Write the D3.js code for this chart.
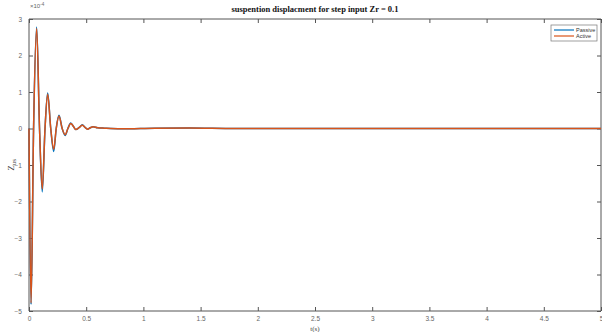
<!DOCTYPE html>
<html>
<head>
<meta charset="utf-8">
<script src="https://cdn.jsdelivr.net/npm/d3@7"></script>
<style>
  html, body { margin: 0; padding: 0; background: #fff; }
  svg { display: block; }
</style>
</head>
<body>
<svg id="chart" width="602" height="332"></svg>
<script>
// Time samples (s) at the extrema and zero crossings of the response
const time = [0, 0.018, 0.04, 0.067, 0.092, 0.116, 0.14, 0.163, 0.19, 0.216, 0.238, 0.262, 0.29, 0.316, 0.34, 0.365, 0.39, 0.408, 0.44, 0.466, 0.49, 0.513, 0.535, 0.56, 0.6, 0.66, 0.8, 1.1, 1.4, 1.8, 2.5, 5];
// Suspension displacement, units of 1e-4
const passive = [0, -4.82, 0, 2.78, 0, -1.74, 0, 0.97, 0, -0.63, 0, 0.36, 0, -0.19, 0, 0.15, 0.05, -0.03, 0.03, 0.1, 0.03, -0.02, 0.02, 0.05, 0.02, 0.01, -0.005, 0.01, 0.015, 0.0, 0.0, 0.0];
const active  = [0, -4.78, 0, 2.74, 0, -1.66, 0, 0.94, 0, -0.57, 0, 0.34, 0, -0.17, 0, 0.14, 0.05, -0.03, 0.03, 0.09, 0.03, -0.02, 0.02, 0.05, 0.02, 0.01, -0.005, 0.01, 0.015, 0.0, 0.0, 0.0];

const xTicks = [0, 0.5, 1, 1.5, 2, 2.5, 3, 3.5, 4, 4.5, 5];
const yTicks = [-5, -4, -3, -2, -1, 0, 1, 2, 3];
const seriesNames = ["Passive", "Active"];
const seriesColors = ["#0072BD", "#D95319"];

const svg = d3.select("#chart");
const plotL = 29, plotR = 601, plotT = 19, plotB = 311;

const x = d3.scaleLinear().domain([0, 5]).range([plotL, plotR]);
const y = d3.scaleLinear().domain([-5, 3]).range([plotB, plotT]);

const axisColor = "#555";
const labelColor = "#666";
const tickFont = "Arial, 'Liberation Sans', sans-serif";

// axes with inward ticks
const gx = svg.append("g").attr("transform", `translate(0,${plotB})`)
  .call(d3.axisBottom(x).tickValues(xTicks).tickSize(-4).tickPadding(5).tickFormat(d3.format("")));
const gxTop = svg.append("g").attr("transform", `translate(0,${plotT})`)
  .call(d3.axisTop(x).tickValues(xTicks).tickSize(-4).tickFormat(""));
const gy = svg.append("g").attr("transform", `translate(${plotL},0)`)
  .call(d3.axisLeft(y).tickValues(yTicks).tickSize(-4).tickPadding(7).tickFormat(d3.format("")));
const gyRight = svg.append("g").attr("transform", `translate(${plotR},0)`)
  .call(d3.axisRight(y).tickValues(yTicks).tickSize(-4).tickFormat(""));

[gx, gxTop, gy, gyRight].forEach(g => {
  g.selectAll("path.domain").attr("stroke", axisColor).attr("stroke-width", 1);
  g.selectAll(".tick line").attr("stroke", axisColor).attr("stroke-width", 1);
  g.selectAll(".tick text").attr("fill", labelColor).style("font-family", tickFont).style("font-size", "6.5px");
});
gx.selectAll("path.domain").attr("d", `M${plotL},0H${plotR}`);
gxTop.selectAll("path.domain").attr("d", `M${plotL},0H${plotR}`);
gy.selectAll("path.domain").attr("d", `M0,${plotT}V${plotB}`);
gyRight.selectAll("path.domain").attr("d", `M0,${plotT}V${plotB}`);

// series lines
const line = d3.line().curve(d3.curveMonotoneX);
[passive, active].forEach((vals, i) => {
  svg.append("path")
    .attr("d", line(time.map((t, k) => [x(t), y(vals[k])])))
    .attr("fill", "none")
    .attr("stroke", seriesColors[i])
    .attr("stroke-width", 1.5)
    .attr("stroke-linejoin", "round");
});

// exponent label
const expo = svg.append("text").attr("x", plotL + 1).attr("y", 8)
  .attr("fill", labelColor).style("font-family", tickFont).style("font-size", "6px");
expo.append("tspan").text("\u00d710");
expo.append("tspan").attr("dy", -2.5).style("font-size", "4.5px").text("-4");

// title
svg.append("text").attr("x", (plotL + plotR) / 2).attr("y", 12)
  .attr("text-anchor", "middle")
  .style("font-family", "'Liberation Serif', 'Times New Roman', serif")
  .style("font-weight", "bold").style("font-size", "8.5px").attr("fill", "#111")
  .text("suspention displacment for step input Zr = 0.1");

// axis labels
svg.append("text").attr("x", (plotL + plotR) / 2).attr("y", 331)
  .attr("text-anchor", "middle")
  .style("font-family", "'Liberation Serif', 'Times New Roman', serif")
  .style("font-size", "7px").attr("fill", "#444").text("t(s)");
const yl = svg.append("text").attr("transform", `translate(14,${(plotT + plotB) / 2}) rotate(-90)`)
  .attr("text-anchor", "middle")
  .style("font-family", "'Liberation Serif', 'Times New Roman', serif")
  .style("font-size", "9px").attr("fill", "#444");
yl.append("tspan").text("Z");
yl.append("tspan").attr("dy", 1.5).style("font-size", "7px").text("us");

// legend
const lg = svg.append("g").attr("transform", "translate(551,25)");
lg.append("rect").attr("width", 46).attr("height", 16)
  .attr("fill", "#fff").attr("stroke", "#777").attr("stroke-width", 0.7);
seriesNames.forEach((name, i) => {
  const yy = 5 + i * 6;
  lg.append("line").attr("x1", 3).attr("x2", 23).attr("y1", yy).attr("y2", yy)
    .attr("stroke", seriesColors[i]).attr("stroke-width", 1.2);
  lg.append("text").attr("x", 25).attr("y", yy + 2)
    .style("font-family", tickFont).style("font-size", "5.5px").attr("fill", "#333").text(name);
});
</script>
</body>
</html>
